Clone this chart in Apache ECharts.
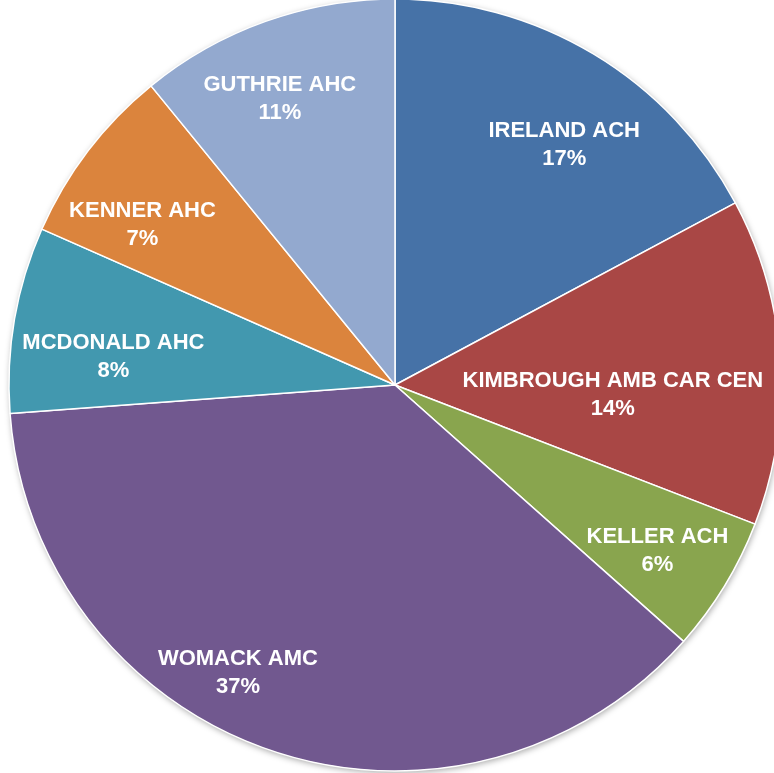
<!DOCTYPE html>
<html>
<head>
<meta charset="utf-8">
<script src="https://cdn.jsdelivr.net/npm/echarts@6/dist/echarts.min.js"></script>
<style>
  html, body { margin: 0; padding: 0; background: #fff; }
  #chart { width: 774px; height: 773px; }
</style>
</head>
<body>
<div id="chart"></div>
<script>
// clinic names, clockwise from 12 o'clock
const clinics = [
  'IRELAND ACH',
  'KIMBROUGH AMB CAR CEN',
  'KELLER ACH',
  'WOMACK AMC',
  'MCDONALD AHC',
  'KENNER AHC',
  'GUTHRIE AHC'
]
// share of total (percent)
const shares = [17.2, 13.7, 5.7, 37.3, 7.8, 7.5, 10.9]
const colors = ['#4672A7', '#A94745', '#89A54E', '#71588F', '#4298AF', '#DB843D', '#93A9CF']

// label placement: fraction of radius, and angular nudge (deg) from the slice middle
const labelRadius = [0.76, 0.565, 0.805, 0.85, 0.733, 0.775, 0.80]
const labelNudge = [4.3, 6.2, 1, 9.9, -4.2, -4.9, -2.3]

const CX = 395
const CY = 385
const R = 386

const pieData = clinics.map((name, i) => ({ name, value: shares[i] }))

const chart = echarts.init(document.getElementById('chart'))

chart.setOption({
  animation: false,
  color: colors,
  series: [
    // underlay that only casts the soft drop shadow around the rim
    {
      type: 'pie',
      z: 1,
      silent: true,
      center: [CX, CY],
      radius: R,
      startAngle: 90,
      label: { show: false },
      labelLine: { show: false },
      itemStyle: {
        color: '#fff',
        shadowBlur: 6,
        shadowOffsetX: 1,
        shadowOffsetY: 2,
        shadowColor: 'rgba(0, 0, 0, 0.35)'
      },
      data: pieData
    },
    {
      type: 'pie',
      z: 2,
      center: [CX, CY],
      radius: R,
      startAngle: 90,
      clockwise: true,
      avoidLabelOverlap: false,
      itemStyle: {
        borderColor: '#fff',
        borderWidth: 1.5
      },
      label: {
        show: true,
        position: 'inside',
        rotate: 0,
        color: '#fff',
        fontFamily: '"Liberation Sans", Arial, sans-serif',
        fontWeight: 'bold',
        fontSize: 22,
        lineHeight: 28,
        align: 'center',
        formatter: (p) => p.name + '\n' + Math.round(p.percent) + '%'
      },
      labelLine: { show: false },
      emphasis: { disabled: true },
      labelLayout: (params) => {
        const i = params.dataIndex
        const rect = params.labelRect
        const lx = rect.x + rect.width / 2
        const ly = rect.y + rect.height / 2
        // angle of the default label, clockwise from 12 o'clock
        const ang = Math.atan2(lx - CX, -(ly - CY)) + labelNudge[i] * Math.PI / 180
        const rr = R * labelRadius[i]
        return {
          x: CX + rr * Math.sin(ang),
          y: CY - rr * Math.cos(ang)
        }
      },
      data: pieData
    }
  ]
})
</script>
</body>
</html>
